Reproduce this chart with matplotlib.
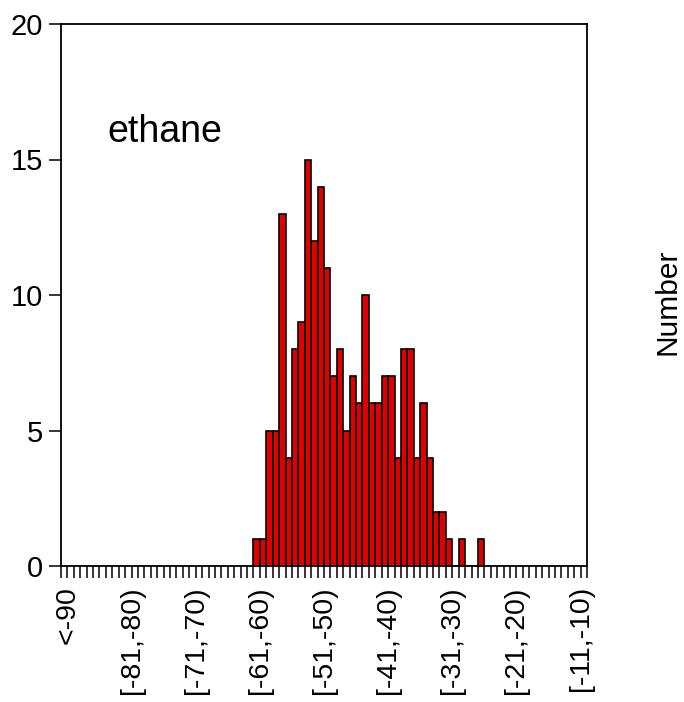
import matplotlib
matplotlib.use("Agg")
import matplotlib.pyplot as plt
from matplotlib.ticker import FixedLocator, MultipleLocator

plt.rcParams['font.family'] = ['Liberation Sans', 'DejaVu Sans']

# Histogram of ethane values: lower edge of each 1-unit bin and its count
bin_start = [-61, -60, -59, -58, -57, -56, -55, -54, -53, -52, -51, -50,
             -49, -48, -47, -46, -45, -44, -43, -42, -41, -40, -39, -38,
             -37, -36, -35, -34, -33, -32, -31, -30, -29, -28, -27, -26]
counts = [1, 1, 5, 5, 13, 4, 8, 9, 15, 12, 14, 11,
          7, 8, 5, 7, 6, 10, 6, 6, 7, 7, 4, 8,
          8, 4, 6, 4, 2, 2, 1, 0, 1, 0, 0, 1]

# Tick labels placed at the right edge of their bin
tick_pos = [-90, -80, -70, -60, -50, -40, -30, -20, -10]
tick_labels = ["<-90", "[-81,-80)", "[-71,-70)", "[-61,-60)", "[-51,-50)",
               "[-41,-40)", "[-31,-30)", "[-21,-20)", "[-11,-10)"]
y_ticks = [0, 5, 10, 15, 20]

W, H = 684, 702
fig = plt.figure(figsize=(W / 100, H / 100), dpi=100)
ax = fig.add_axes([61 / W, 1 - 566 / H, (587 - 61) / W, (566 - 24) / H])

ax.bar(bin_start, counts, width=1, align='edge', color='#e00000',
       edgecolor='black', linewidth=1.2)

ax.set_xlim(-91, -9)
ax.set_ylim(0, 20)

ax.xaxis.set_major_locator(FixedLocator(tick_pos))
ax.set_xticklabels(tick_labels, rotation=90, fontsize=20.5)
ax.xaxis.set_minor_locator(MultipleLocator(1))
ax.tick_params(axis='x', which='both', direction='out', length=8.5, width=1.1,
               color='black', pad=6)

ax.set_yticks(y_ticks)
ax.set_yticklabels([str(v) for v in y_ticks], fontsize=21)
ax.tick_params(axis='y', which='major', direction='out', length=9, width=1.1,
               pad=4)

for s in ax.spines.values():
    s.set_linewidth(1.3)
    s.set_color('black')

ax.text(0.088, 0.80, "ethane", transform=ax.transAxes, fontsize=27,
        ha='left', va='center')

fig.text(668 / W, 1 - 302 / H, "Number", rotation=90, fontsize=21.5,
         ha='center', va='center')

fig.savefig("out.png", dpi=100)
